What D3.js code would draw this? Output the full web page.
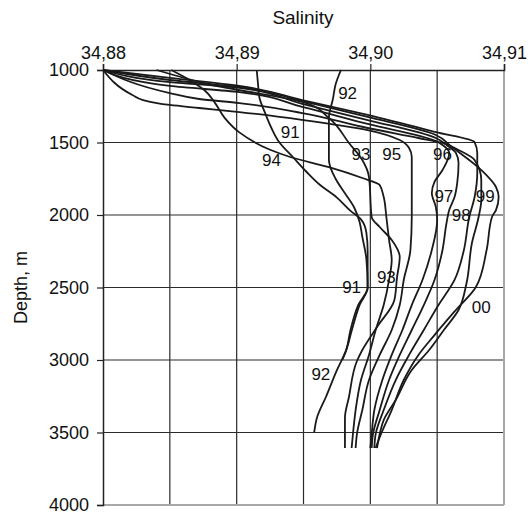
<!DOCTYPE html>
<html><head><meta charset="utf-8">
<script src="https://cdn.jsdelivr.net/npm/d3@7"></script>
<style>
body{margin:0;background:#fff}
svg{display:block}
text{font-family:"Liberation Sans",Arial,sans-serif;fill:#111}
</style>
</head><body>
<svg id="chart" width="532" height="516"></svg>
<script>
// Axis values
const salinityTicks = [34.88, 34.89, 34.90, 34.91];
const salinityGrid = [34.88, 34.885, 34.89, 34.895, 34.90, 34.905, 34.91];
const depthTicks = [1000, 1500, 2000, 2500, 3000, 3500, 4000];

// Profiles: [depth m, salinity]
const p91 = [[1000,34.8915],[1100,34.8916],[1190,34.8917],[1290,34.8921],[1400,34.8926],[1500,34.8932],[1600,34.8942],[1700,34.8952],[1790,34.8962],[1880,34.8975],[1970,34.8985],[2030,34.8993],[2120,34.8997],[2250,34.8998],[2400,34.8998],[2500,34.8998],[2620,34.8991],[2800,34.8985],[2930,34.8982],[3000,34.8979]];
const p92 = [[1000,34.8978],[1100,34.8974],[1200,34.8972],[1330,34.8969],[1500,34.8969],[1620,34.8969],[1750,34.8974],[1850,34.8981],[1950,34.8988],[2050,34.8992],[2150,34.8994],[2300,34.8997],[2500,34.8998],[2620,34.8992],[2800,34.8986],[2930,34.8982],[3070,34.8975],[3250,34.8967],[3400,34.8960],[3500,34.8958]];
const p93 = [[1000,34.8840],[1100,34.8880],[1228,34.8952],[1331,34.8969],[1503,34.8984],[1621,34.8994],[1738,34.8999],[2014,34.9001],[2083,34.9007],[2172,34.9016],[2290,34.9022],[2428,34.9020],[2586,34.9018],[2772,34.9005],[2931,34.8994],[3007,34.8990],[3255,34.8984],[3400,34.8981],[3607,34.8981]];
const p94 = [[1000,34.8851],[1070,34.8865],[1140,34.8876],[1230,34.8884],[1330,34.8891],[1430,34.8902],[1550,34.8925],[1600,34.8940],[1670,34.8969],[1745,34.8994],[1793,34.9007],[1876,34.9010],[2014,34.9012],[2172,34.9014],[2310,34.9016],[2448,34.9014],[2621,34.9010],[2793,34.9004],[2965,34.8999],[3138,34.8993],[3345,34.8989],[3510,34.8987],[3607,34.8986]];
const p95 = [[1000,34.8800],[1172,34.8822],[1207,34.8830],[1241,34.8850],[1262,34.8872],[1290,34.8902],[1345,34.8950],[1414,34.8998],[1483,34.9022],[1538,34.9029],[1600,34.9031],[1800,34.9031],[2014,34.9031],[2241,34.9030],[2448,34.9025],[2621,34.9022],[2793,34.9016],[2965,34.9007],[3138,34.8999],[3345,34.8994],[3510,34.8990],[3607,34.8989]];
const p96 = [[1000,34.8800],[1110,34.8850],[1152,34.8902],[1255,34.8949],[1372,34.8998],[1490,34.9049],[1517,34.9054],[1572,34.9059],[1690,34.9054],[1772,34.9048],[1848,34.9046],[1945,34.9049],[2034,34.9050],[2241,34.9046],[2448,34.9039],[2621,34.9031],[2793,34.9024],[2965,34.9016],[3138,34.9009],[3345,34.9003],[3510,34.9001],[3607,34.9000]];
const p97 = [[1000,34.8800],[1083,34.8850],[1124,34.8902],[1234,34.8949],[1345,34.8998],[1469,34.9049],[1517,34.9057],[1572,34.9064],[1641,34.9066],[1779,34.9065],[1876,34.9063],[1966,34.9059],[2055,34.9057],[2241,34.9054],[2448,34.9048],[2621,34.9040],[2793,34.9031],[2965,34.9022],[3138,34.9014],[3345,34.9007],[3510,34.9002],[3607,34.9001]];
const p98 = [[1000,34.8800],[1055,34.8850],[1110,34.8902],[1207,34.8949],[1310,34.8998],[1428,34.9049],[1497,34.9078],[1572,34.9080],[1710,34.9080],[1876,34.9078],[2014,34.9074],[2241,34.9070],[2448,34.9063],[2621,34.9051],[2793,34.9040],[2965,34.9029],[3138,34.9019],[3345,34.9010],[3510,34.9004],[3607,34.9003]];
const p99 = [[1000,34.8800],[1069,34.8850],[1117,34.8902],[1214,34.8949],[1324,34.8998],[1448,34.9049],[1531,34.9061],[1690,34.9083],[1807,34.9094],[1876,34.9096],[1966,34.9094],[2014,34.9091],[2241,34.9087],[2497,34.9079],[2655,34.9064],[2828,34.9048],[2965,34.9036],[3138,34.9025],[3345,34.9016],[3510,34.9008],[3607,34.9004]];
const p00 = [[1000,34.8800],[1159,34.8850],[1200,34.8872],[1228,34.8902],[1297,34.8949],[1400,34.8998],[1469,34.9036],[1503,34.9054],[1552,34.9066],[1621,34.9078],[1759,34.9083],[1897,34.9083],[2014,34.9081],[2193,34.9076],[2469,34.9072],[2655,34.9066],[2793,34.9055],[2931,34.9044],[3069,34.9031],[3276,34.9019],[3414,34.9010],[3510,34.9007],[3607,34.9005]];
const profiles = [p91, p92, p93, p94, p95, p96, p97, p98, p99, p00];

// Year labels: text, salinity, depth
const labelText = ["92","91","94","93","95","96","97","98","99","91","93","00","92"];
const labelSal  = [34.8983,34.8940,34.8926,34.8993,34.9016,34.9054,34.9055,34.9068,34.9086,34.8986,34.9012,34.9083,34.8963];
const labelDep  = [1159,1434,1621,1586,1586,1586,1869,2000,1869,2503,2428,2641,3097];

const svg = d3.select("#chart");
const x = d3.scaleLinear().domain([34.88, 34.91]).range([103, 504]);
const y = d3.scaleLinear().domain([1000, 4000]).range([70, 505]);
const comma = v => d3.format(".2f")(v).replace(".", ",");

// grid
const grid = svg.append("g");
grid.selectAll(".vg").data(salinityGrid.slice(1, -1)).join("line")
  .attr("x1", d => x(d)).attr("x2", d => x(d)).attr("y1", y(1000)).attr("y2", y(4000))
  .attr("stroke", "#2a2a2a").attr("stroke-width", 1.2);
grid.selectAll(".hg").data(depthTicks.slice(1, -1)).join("line")
  .attr("x1", x(34.88)).attr("x2", x(34.91)).attr("y1", d => y(d)).attr("y2", d => y(d))
  .attr("stroke", "#2a2a2a").attr("stroke-width", 1.2);

// frame: bottom and right in grey
svg.append("line").attr("x1", x(34.88)).attr("x2", x(34.91)).attr("y1", y(4000)).attr("y2", y(4000))
  .attr("stroke", "#a8a8a8").attr("stroke-width", 2);
svg.append("line").attr("x1", x(34.91)).attr("x2", x(34.91)).attr("y1", y(1000)).attr("y2", y(4000))
  .attr("stroke", "#a8a8a8").attr("stroke-width", 2);

// axes
const xAxis = svg.append("g").attr("transform", `translate(0,${y(1000)})`)
  .call(d3.axisTop(x).tickValues(salinityTicks).tickSize(6).tickPadding(5).tickFormat(comma));
const yAxis = svg.append("g").attr("transform", `translate(${x(34.88)},0)`)
  .call(d3.axisLeft(y).tickValues(depthTicks).tickSize(6).tickPadding(8).tickFormat(d3.format("d")));
[xAxis, yAxis].forEach(a => {
  a.selectAll("path").attr("stroke", "#222").attr("stroke-width", 1.5);
  a.selectAll("line").attr("stroke", "#222").attr("stroke-width", 1.2);
  a.selectAll("text").attr("font-size", 18).attr("fill", "#111")
    .attr("font-family", "'Liberation Sans',Arial,sans-serif");
});

// axis titles
svg.append("text").attr("x", 303).attr("y", 24).attr("text-anchor", "middle")
  .attr("font-size", 19).text("Salinity");
svg.append("text").attr("transform", `translate(27,${(y(1000)+y(4000))/2}) rotate(-90)`)
  .attr("text-anchor", "middle").attr("font-size", 18).text("Depth, m");

// profiles
const line = d3.line().x(d => x(d[1])).y(d => y(d[0])).curve(d3.curveMonotoneY);
svg.append("g").selectAll("path").data(profiles).join("path")
  .attr("d", line).attr("fill", "none").attr("stroke", "#1a1a1a")
  .attr("stroke-width", 1.8).attr("stroke-linejoin", "round");

// year labels
svg.append("g").selectAll("text").data(labelText).join("text")
  .attr("x", (d, i) => x(labelSal[i])).attr("y", (d, i) => y(labelDep[i]))
  .attr("text-anchor", "middle").attr("dominant-baseline", "central")
  .attr("font-size", 17).text(d => d);
</script>
</body></html>
